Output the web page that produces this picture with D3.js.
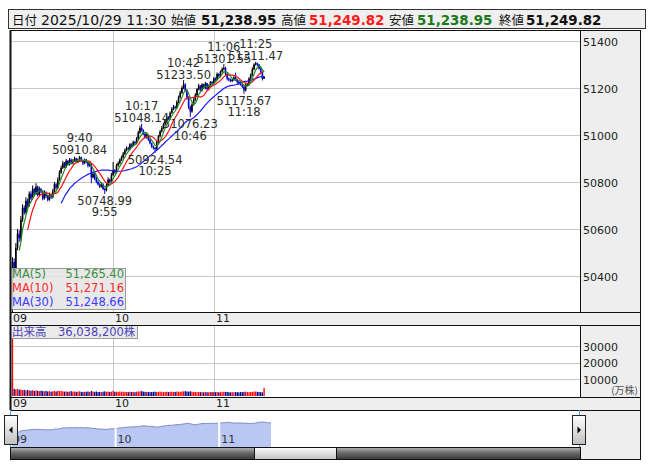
<!DOCTYPE html>
<html><head><meta charset="utf-8">
<script src="https://cdn.jsdelivr.net/npm/d3@7"></script>
<style>
body{margin:0;background:#fff;}
svg{display:block;font-family:"DejaVu Sans",Verdana,"Noto Sans CJK JP",sans-serif;}
</style></head><body>
<svg id="c" width="653" height="470"></svg>
<script>
// ---------- DATA (1-minute bars, index 0 = 9:00) ----------
const opens = [
50290,50460,50420,50520,50580,50560,50640,50690,50670,50720,
50700,50750,50730,50770,50750,50780,50745,50770,50760,50730,
50755,50740,50725,50745,50735,50760,50790,50775,50810,50840,
50860,50880,50865,50890,50875,50895,50880,50890,50900,50885,
50895,50905,50890,50880,50895,50885,50870,50875,50820,50835,
50815,50800,50790,50780,50790,50770,50765,50785,50810,50800,
50830,50850,50840,50870,50880,50895,50905,50920,50935,50945,
50940,50960,50955,50970,50965,50985,51010,51030,51020,51005,
50990,51000,50980,50965,50950,50945,50940,50970,50995,51015,
51030,51045,51060,51075,51070,51095,51110,51120,51115,51140,
51160,51180,51200,51215,51190,51160,51120,51100,51130,51150,
51170,51195,51210,51190,51215,51200,51220,51195,51210,51225,
51220,51240,51235,51260,51250,51270,51280,51285,51260,51240,
51235,51230,51235,51245,51235,51225,51220,51215,51205,51190,
51215,51215,51240,51255,51280,51300,51305,51300,51283,51265,
51238.95];
const highs = [
50480,50475,50540,50600,50595,50655,50705,50700,50735,50730,
50760,50760,50785,50775,50795,50785,50780,50775,50765,50765,
50760,50745,50755,50750,50770,50800,50795,50820,50850,50870,
50890,50885,50898,50893,50902,50900,50898,50908,50903,50900,
50910.84,50908,50895,50900,50898,50890,50885,50878,50845,50840,
50822,50808,50795,50800,50795,50775,50795,50820,50815,50838,
50885,50855,50878,50888,50900,50912,50928,50942,50952,50950,
50965,50965,50976,50975,50992,51018,51040,51048.14,51025,51008,
51008,51003,50985,50968,50955,50950,50975,51000,51022,51038,
51052,51068,51082,51080,51100,51118,51128,51125,51148,51168,
51188,51208,51233.50,51220,51195,51165,51125,51135,51158,51178,
51200,51218,51212,51220,51218,51226,51222,51215,51230,51230,
51246,51245,51266,51262,51275,51288,51301.55,51290,51263,51245,
51240,51240,51250,51265,51240,51230,51225,51218,51208,51220,
51222,51246,51262,51288,51305,51311.47,51308,51302,51288,51268,
51249.82];
const lows = [
50240,50400,50410,50510,50545,50550,50630,50660,50665,50690,
50695,50722,50725,50742,50745,50738,50740,50752,50722,50725,
50732,50718,50720,50728,50730,50755,50768,50770,50805,50835,
50855,50860,50860,50870,50870,50875,50875,50885,50880,50880,
50890,50885,50872,50876,50880,50862,50865,50795,50815,50808,
50795,50785,50775,50776,50765,50748.99,50760,50780,50795,50798,
50825,50835,50836,50865,50875,50890,50900,50915,50930,50935,
50935,50948,50950,50958,50960,50980,51005,51015,51000,50985,
50985,50975,50960,50945,50938,50924.54,50935,50965,50990,51010,
51025,51040,51055,51065,51065,51090,51105,51110,51112,51135,
51155,51175,51195,51185,51150,51110,51076.23,51095,51125,51145,
51165,51190,51182,51185,51195,51195,51190,51190,51205,51215,
51215,51230,51232,51245,51245,51265,51275,51255,51232,51228,
51225,51225,51230,51230,51218,51212,51210,51200,51175.67,51185,
51208,51210,51235,51250,51275,51295,51292,51278,51258,51232,
51238.95];
const closes = [
50460,50420,50520,50580,50560,50640,50690,50670,50720,50700,
50750,50730,50770,50750,50780,50745,50770,50760,50730,50755,
50740,50725,50745,50735,50760,50790,50775,50810,50840,50860,
50880,50865,50890,50875,50895,50880,50890,50900,50885,50895,
50905,50890,50880,50895,50885,50870,50875,50820,50835,50815,
50800,50790,50780,50790,50770,50765,50785,50810,50800,50830,
50850,50840,50870,50880,50895,50905,50920,50935,50945,50940,
50960,50955,50970,50965,50985,51010,51030,51020,51005,50990,
51000,50980,50965,50950,50945,50940,50970,50995,51015,51030,
51045,51060,51075,51070,51095,51110,51120,51115,51140,51160,
51180,51200,51215,51190,51160,51120,51100,51130,51150,51170,
51195,51210,51190,51215,51200,51220,51195,51210,51225,51220,
51240,51235,51260,51250,51270,51280,51285,51260,51240,51235,
51230,51235,51245,51235,51225,51220,51215,51205,51190,51215,
51215,51240,51255,51280,51300,51305,51300,51283,51265,51238.95,
51249.82];
const volumes = [
35000,4300,4000,4200,3800,3900,3500,3700,3300,3600,
3400,3200,3500,3000,3300,3100,2900,3200,3000,2800,
3100,2700,2900,2600,2800,3000,2700,3200,2900,3000,
2800,2600,2800,2500,2700,2900,2600,2700,2500,2600,
2800,2500,2400,2600,2500,2700,2400,3000,2600,2500,
2700,2400,2500,2300,2600,2800,2500,2700,2400,2600,
3100,2500,2600,2400,2700,2500,2600,2400,2500,2300,
2600,2400,2500,2300,2600,2700,2800,2900,2600,2500,
2400,2500,2300,2400,2500,2600,2400,2500,2600,2300,
2500,2400,2600,2300,2500,2600,2400,2500,2700,2600,
2500,2700,2800,2900,2700,2600,2800,2600,2400,2500,
2300,2400,2300,2500,2200,2400,2300,2200,2400,2300,
2500,2300,2400,2200,2500,2300,2600,2400,2500,2300,
2200,2300,2200,2400,2300,2200,2400,2300,2500,2600,
2400,2300,2400,2500,2600,2700,2500,2400,2300,2200,
4900];

const timeTicks = [0, 60, 120];
const timeTickLabels = ["09", "10", "11"];
const priceTicks = [51400, 51200, 51000, 50800, 50600, 50400];
const volTicks = [30000, 20000, 10000];

const annIndex  = [40, 55, 77, 85, 102, 106, 126, 138, 145];
const annTime   = ["9:40","9:55","10:17","10:25","10:42","10:46","11:06","11:18","11:25"];
const annValue  = ["50910.84","50748.99","51048.14","50924.54","51233.50","51076.23","51301.55","51175.67","51311.47"];
const annKind   = ["H","L","H","L","H","L","H","L","H"];

const maPeriods = [5, 10, 30];
const maLabels  = ["MA(5)", "MA(10)", "MA(30)"];
const maValues  = ["51,265.40", "51,271.16", "51,248.66"];

const headerLabels = ["始値", "高値", "安値", "終値"];
const headerValues = ["51,238.95", "51,249.82", "51,238.95", "51,249.82"];
const headerDate = "2025/10/29 11:30";
const volumeLegend = "出来高　36,038,200株";

// ---------- LAYOUT ----------
const svg = d3.select("#c");
const L = 10, PR = 580, AR = 640;
const mainTop = 30, mainBot = 312, volTop = 325, volBot = 397, navTop = 410, navBot = 447, scrollBot = 459;
const N = closes.length;
const idx = d3.range(N);

const x  = d3.scaleLinear().domain([0, 330]).range([12.5, 566]);
const y  = d3.scaleLinear().domain([50400, 51400]).range([276, 41]);
const yv = d3.scaleLinear().domain([0, 30000]).range([396, 346]);
const xn = d3.scaleLinear().domain([0, 150]).range([12, 271]);
const yn = d3.scaleLinear().domain([50280, 51311.47]).range([436, 422]);

const defs = svg.append("defs");
defs.append("clipPath").attr("id","clipMain").append("rect").attr("x",L).attr("y",mainTop).attr("width",PR-L).attr("height",mainBot-mainTop);
defs.append("clipPath").attr("id","clipVol").append("rect").attr("x",L).attr("y",volTop).attr("width",PR-L).attr("height",volBot-volTop);
function grad(id, stops){
  const g = defs.append("linearGradient").attr("id",id).attr("x1",0).attr("y1",0).attr("x2",0).attr("y2",1);
  stops.forEach(s=>g.append("stop").attr("offset",s[0]).attr("stop-color",s[1]));
}
grad("gDark", [[0,"#b8b8b8"],[0.5,"#6a6a6a"],[1,"#3a3a3a"]]);
grad("gLight", [[0,"#ffffff"],[1,"#c4c4c4"]]);
grad("gBtn", [[0,"#ffffff"],[1,"#c0c0c0"]]);

// header
svg.append("rect").attr("x",8.5).attr("y",9.5).attr("width",637).attr("height",19).attr("fill","#efefef").attr("stroke","#333");
const hdr = svg.append("g").attr("font-size","14px").attr("fill","#111");
hdr.append("text").attr("x",12).attr("y",25).attr("font-family","Noto Sans CJK JP").attr("font-size","12.5px").text("日付");
hdr.append("text").attr("x",41).attr("y",25).text(headerDate);
const hLabX = [171, 281, 389, 499], hValX = [201, 309, 417, 526];
const hValCol = ["#111", "#ff1a1a", "#1a7a1a", "#111"];
headerLabels.forEach((t,i)=>{
  hdr.append("text").attr("x",hLabX[i]).attr("y",25).attr("font-family","Noto Sans CJK JP").attr("font-size","12.5px").text(t);
  hdr.append("text").attr("x",hValX[i]).attr("y",25).attr("font-weight","bold").attr("font-size","13.4px").attr("fill",hValCol[i]).text(headerValues[i]);
});

// panel backgrounds
svg.append("rect").attr("x",L).attr("y",mainTop).attr("width",PR-L).attr("height",mainBot-mainTop).attr("fill","#fff");
svg.append("rect").attr("x",PR).attr("y",mainTop).attr("width",AR-PR).attr("height",scrollBot-mainTop).attr("fill","#eeeeee");
svg.append("rect").attr("x",L).attr("y",mainBot).attr("width",AR-L).attr("height",volTop-mainBot).attr("fill","#eeeeee");
svg.append("rect").attr("x",L).attr("y",volBot).attr("width",AR-L).attr("height",navTop-volBot).attr("fill","#eeeeee");
svg.append("rect").attr("x",L).attr("y",navTop).attr("width",PR-L).attr("height",navBot-navTop).attr("fill","#fff");

// grids
const grid = svg.append("g").attr("stroke","#c8c8c8").attr("stroke-width",1);
priceTicks.forEach(p=>grid.append("line").attr("x1",L).attr("x2",PR).attr("y1",Math.round(y(p))+0.5).attr("y2",Math.round(y(p))+0.5));
volTicks.forEach(v=>grid.append("line").attr("x1",L).attr("x2",PR).attr("y1",Math.round(yv(v))+0.5).attr("y2",Math.round(yv(v))+0.5));
timeTicks.slice(1).forEach(t=>{
  const xx = Math.round(x(t))+0.5;
  grid.append("line").attr("x1",xx).attr("x2",xx).attr("y1",mainTop).attr("y2",mainBot);
  grid.append("line").attr("x1",xx).attr("x2",xx).attr("y1",volTop).attr("y2",volBot);
});

// candles
const cg = svg.append("g").attr("clip-path","url(#clipMain)");
idx.forEach(i=>{
  const up = closes[i] >= opens[i];
  const col = up ? "#000" : "#0000c8";
  cg.append("line").attr("x1",x(i)).attr("x2",x(i)).attr("y1",y(highs[i])).attr("y2",y(lows[i])).attr("stroke",col).attr("stroke-width",1);
  const top = y(Math.max(opens[i],closes[i])), bot = y(Math.min(opens[i],closes[i]));
  cg.append("rect").attr("x",x(i)-0.8).attr("width",1.6).attr("y",top).attr("height",Math.max(1,bot-top)).attr("fill",col);
});

// moving averages
const maColors = ["#1f8a1f", "#ff1010", "#1a1aff"];
const line = d3.line().defined(d=>d[1]!=null).x(d=>x(d[0])).y(d=>y(d[1]));
[2,1,0].forEach(k=>{
  const p = maPeriods[k];
  const pts = idx.map(i=> [i, i>=p-1 ? d3.mean(closes.slice(i-p+1,i+1)) : null]);
  cg.append("path").attr("d",line(pts)).attr("fill","none").attr("stroke",maColors[k]).attr("stroke-width",1.2);
});

// annotations
const ag = svg.append("g").attr("font-size","11.5px").attr("fill","#2b2b2b").attr("text-anchor","middle");
annIndex.forEach((t,i)=>{
  const xx = x(t);
  if (annKind[i]==="H"){
    const yy = y(highs[t]);
    ag.append("text").attr("x",xx).attr("y",yy-1.5).text(annValue[i]);
    ag.append("text").attr("x",xx).attr("y",yy-13.5).text(annTime[i]);
  } else {
    const yy = y(lows[t]);
    ag.append("text").attr("x",xx).attr("y",yy+11).text(annValue[i]);
    ag.append("text").attr("x",xx).attr("y",yy+22.5).text(annTime[i]);
  }
});

// price axis labels
const pa = svg.append("g").attr("font-size","11px").attr("fill","#222");
priceTicks.forEach(p=>pa.append("text").attr("x",583).attr("y",y(p)+4.5).text(p));

// MA legend
svg.append("rect").attr("x",10.5).attr("y",268.5).attr("width",115).attr("height",41).attr("fill","#e4e4e4").attr("fill-opacity",0.85).attr("stroke","#9a9a9a");
const legCol = ["#3c8c3c", "#ff2a2a", "#3b3bff"];
maLabels.forEach((t,i)=>{
  svg.append("text").attr("x",12).attr("y",278+14*i).attr("font-size","11.5px").attr("fill",legCol[i]).text(t);
  svg.append("text").attr("x",124).attr("y",278+14*i).attr("font-size","11.5px").attr("text-anchor","end").attr("fill",legCol[i]).text(maValues[i]);
});

// time axis labels (two bands)
const ta = svg.append("g").attr("font-size","11px").attr("fill","#222");
timeTicks.forEach((t,i)=>{
  const xx = i===0 ? 13 : Math.round(x(t))+2;
  ta.append("text").attr("x",xx).attr("y",mainBot+9.5).text(timeTickLabels[i]);
  ta.append("text").attr("x",xx).attr("y",volBot+9.5).text(timeTickLabels[i]);
});

// volume bars
const vg = svg.append("g").attr("clip-path","url(#clipVol)");
idx.forEach(i=>{
  const up = closes[i] >= opens[i];
  vg.append("rect").attr("x",x(i)-0.65).attr("width",1.3).attr("y",yv(volumes[i])).attr("height",yv(0)-yv(volumes[i])).attr("fill", up ? "#ff0000" : "#000090");
});
const va = svg.append("g").attr("font-size","11px").attr("fill","#222");
volTicks.forEach(v=>va.append("text").attr("x",583).attr("y",yv(v)+4.5).text(v));
svg.append("text").attr("x",638).attr("y",394).attr("text-anchor","end").attr("font-size","10px").attr("fill","#555").attr("font-family","Noto Sans CJK JP").text("(万株)");
svg.append("rect").attr("x",10.5).attr("y",325.5).attr("width",127).attr("height",13).attr("fill","#e6e6e6").attr("fill-opacity",0.85).attr("stroke","#9a9a9a");
svg.append("text").attr("x",12).attr("y",336).attr("font-size","11.5px").attr("fill","#4b44b8").text(volumeLegend);

// navigator
const area = d3.area().x((d,i)=>xn(i)).y0(navBot).y1(d=>yn(d));
const ln = d3.line().x((d,i)=>xn(i)).y(d=>yn(d));
svg.append("path").attr("d",area(closes)).attr("fill","#b9c7f5");
svg.append("path").attr("d",ln(closes)).attr("fill","none").attr("stroke","#8288bb").attr("stroke-width",1);
timeTicks.slice(1).forEach(t=>svg.append("line").attr("x1",xn(t)).attr("x2",xn(t)).attr("y1",navTop+10).attr("y2",navBot).attr("stroke","#fff").attr("stroke-width",2));
timeTicks.forEach((t,i)=>svg.append("text").attr("x",i===0?13:xn(t)+2).attr("y",443).attr("font-size","11px").attr("fill","#333").text(timeTickLabels[i]));

// scrollbar
svg.append("rect").attr("x",L).attr("y",navBot).attr("width",254-L).attr("height",scrollBot-navBot).attr("fill","url(#gDark)");
svg.append("rect").attr("x",254).attr("y",navBot).attr("width",82).attr("height",scrollBot-navBot).attr("fill","url(#gLight)");
svg.append("rect").attr("x",336).attr("y",navBot).attr("width",PR-336).attr("height",scrollBot-navBot).attr("fill","url(#gDark)");
svg.append("line").attr("x1",254.5).attr("x2",254.5).attr("y1",navBot).attr("y2",scrollBot).attr("stroke","#111");
svg.append("line").attr("x1",336.5).attr("x2",336.5).attr("y1",navBot).attr("y2",scrollBot).attr("stroke","#111");

// borders
const bd = svg.append("g").attr("stroke","#111").attr("stroke-width",1);
[mainTop, mainBot, volTop, volBot, navTop, scrollBot].forEach(yy=>bd.append("line").attr("x1",L).attr("x2",AR+0.5).attr("y1",yy+0.5).attr("y2",yy+0.5));
bd.append("line").attr("x1",L).attr("x2",PR).attr("y1",navBot+0.5).attr("y2",navBot+0.5);
bd.append("line").attr("x1",L+0.5).attr("x2",L+0.5).attr("y1",mainTop).attr("y2",navTop).attr("stroke-width",2);
bd.append("line").attr("x1",L+0.5).attr("x2",L+0.5).attr("y1",navBot).attr("y2",scrollBot+1);
bd.append("line").attr("x1",AR+0.5).attr("x2",AR+0.5).attr("y1",mainTop).attr("y2",scrollBot+1);
[[mainTop,mainBot],[volTop,volBot],[navBot,scrollBot]].forEach(s=>bd.append("line").attr("x1",PR+0.5).attr("x2",PR+0.5).attr("y1",s[0]).attr("y2",s[1]));
svg.append("line").attr("x1",L+0.5).attr("x2",L+0.5).attr("y1",navTop).attr("y2",navBot).attr("stroke","#3fa9f5");
svg.append("line").attr("x1",PR-0.5).attr("x2",PR-0.5).attr("y1",navTop).attr("y2",navBot).attr("stroke","#3fa9f5");

// navigator buttons
[[4.5,"L"],[572.5,"R"]].forEach(b=>{
  svg.append("rect").attr("x",b[0]).attr("y",415.5).attr("width",13).attr("height",29).attr("fill","url(#gBtn)").attr("stroke","#222");
  const cx = b[0]+6.5, cy = 430;
  const pts = b[1]==="L" ? [[cx+1.5,cy-3.5],[cx+1.5,cy+3.5],[cx-2,cy]] : [[cx-1.5,cy-3.5],[cx-1.5,cy+3.5],[cx+2,cy]];
  svg.append("path").attr("d","M"+pts.map(p=>p.join(",")).join("L")+"Z").attr("fill","#000");
});
</script>
</body></html>
